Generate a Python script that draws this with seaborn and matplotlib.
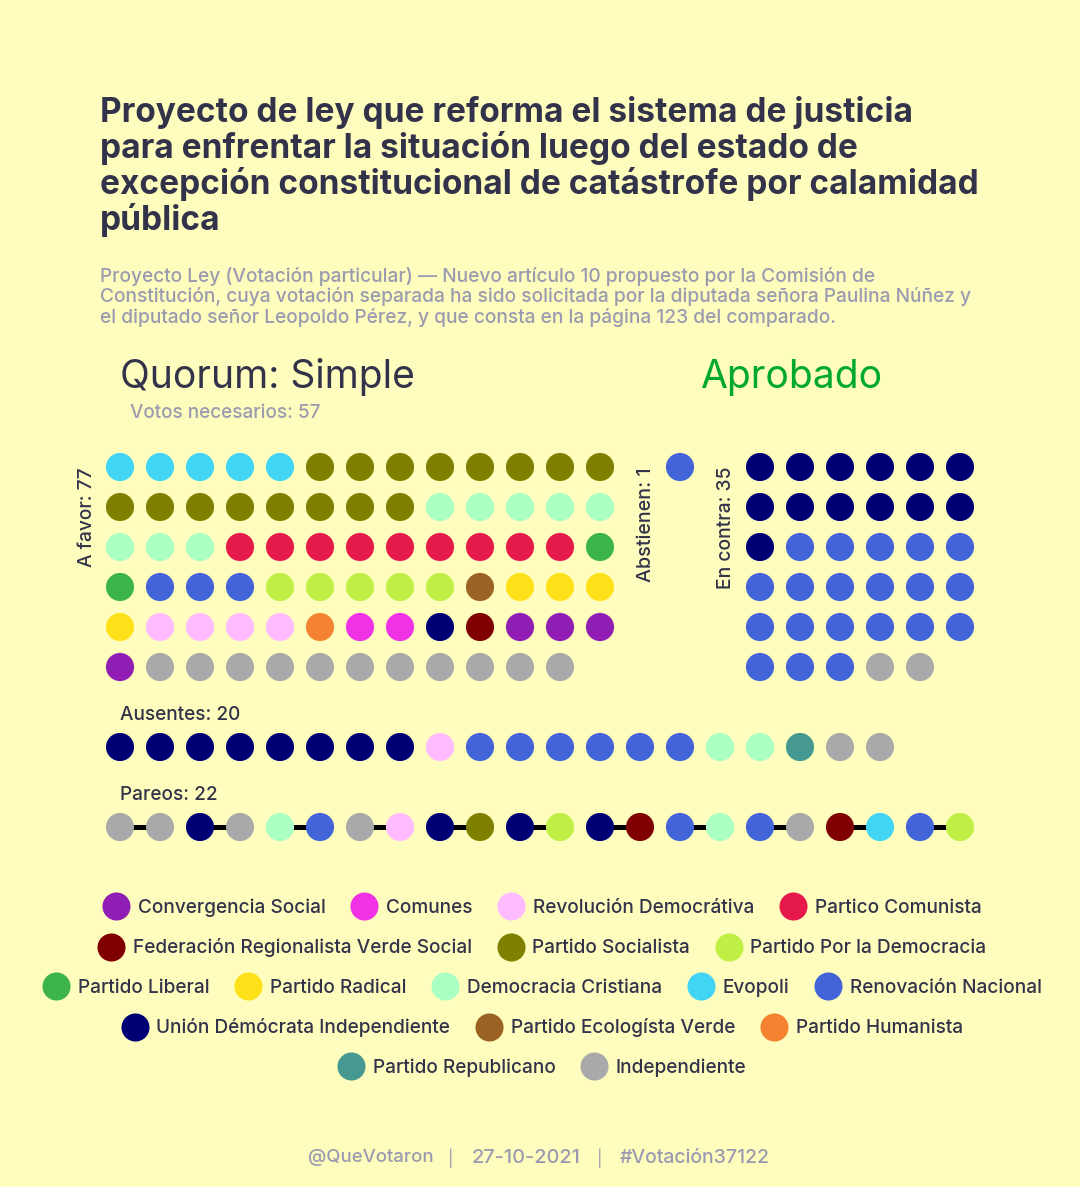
import matplotlib.pyplot as plt
import pandas as pd
import seaborn as sns
from matplotlib.lines import Line2D

BG = "#FEFDBD"
DARK = "#32334A"
GREY = "#9A9AB0"

party_colors = {
    "Convergencia Social": "#911EB4",
    "Comunes": "#F032E6",
    "Revolución Democrátiva": "#FFBBFF",
    "Partico Comunista": "#E6194B",
    "Federación Regionalista Verde Social": "#800000",
    "Partido Socialista": "#808000",
    "Partido Por la Democracia": "#BFEF45",
    "Partido Liberal": "#3CB44B",
    "Partido Radical": "#FFE119",
    "Democracia Cristiana": "#AAFFC3",
    "Evopoli": "#42D4F4",
    "Renovación Nacional": "#4363D8",
    "Unión Démócrata Independiente": "#000075",
    "Partido Ecologísta Verde": "#9A6324",
    "Partido Humanista": "#F58231",
    "Partido Republicano": "#469990",
    "Independiente": "#A9A9A9",
}
legend_rows = [
    ["Convergencia Social", "Comunes", "Revolución Democrátiva", "Partico Comunista"],
    ["Federación Regionalista Verde Social", "Partido Socialista", "Partido Por la Democracia"],
    ["Partido Liberal", "Partido Radical", "Democracia Cristiana", "Evopoli", "Renovación Nacional"],
    ["Unión Démócrata Independiente", "Partido Ecologísta Verde", "Partido Humanista"],
    ["Partido Republicano", "Independiente"],
]

# (party, seats) runs, in the order the dots are laid out
a_favor = [("Evopoli", 5), ("Partido Socialista", 16), ("Democracia Cristiana", 8),
           ("Partico Comunista", 9), ("Partido Liberal", 2), ("Renovación Nacional", 3),
           ("Partido Por la Democracia", 5), ("Partido Ecologísta Verde", 1),
           ("Partido Radical", 4), ("Revolución Democrátiva", 4), ("Partido Humanista", 1),
           ("Comunes", 2), ("Unión Démócrata Independiente", 1),
           ("Federación Regionalista Verde Social", 1), ("Convergencia Social", 4),
           ("Independiente", 11)]
abstienen = [("Renovación Nacional", 1)]
en_contra = [("Unión Démócrata Independiente", 13), ("Renovación Nacional", 20), ("Independiente", 2)]
ausentes = [("Unión Démócrata Independiente", 8), ("Revolución Democrátiva", 1),
            ("Renovación Nacional", 6), ("Democracia Cristiana", 2),
            ("Partido Republicano", 1), ("Independiente", 2)]
pareos = ["Independiente", "Independiente", "Unión Démócrata Independiente", "Independiente",
          "Democracia Cristiana", "Renovación Nacional", "Independiente", "Revolución Democrátiva",
          "Unión Démócrata Independiente", "Partido Socialista", "Unión Démócrata Independiente",
          "Partido Por la Democracia", "Unión Démócrata Independiente",
          "Federación Regionalista Verde Social", "Renovación Nacional", "Democracia Cristiana",
          "Renovación Nacional", "Independiente", "Federación Regionalista Verde Social",
          "Evopoli", "Renovación Nacional", "Partido Por la Democracia"]

title_lines = ["Proyecto de ley que reforma el sistema de justicia",
               "para enfrentar la situación luego del estado de",
               "excepción constitucional de catástrofe por calamidad",
               "pública"]
subtitle_lines = ["Proyecto Ley (Votación particular) — Nuevo artículo 10 propuesto por la Comisión de",
                  "Constitución, cuya votación separada ha sido solicitada por la diputada señora Paulina Núñez y",
                  "el diputado señor Leopoldo Pérez, y que consta en la página 123 del comparado."]
footer_parts = ["@QueVotaron", "27-10-2021", "#Votación37122"]


def expand(runs):
    return [p for p, n in runs for _ in range(n)]


def block(parties, col0, row0, ncols):
    return pd.DataFrame({
        "party": parties,
        "col": [col0 + i % ncols for i in range(len(parties))],
        "row": [row0 + i // ncols for i in range(len(parties))],
    })


plt.rcParams["font.family"] = ["Inter", "DejaVu Sans"]
fig = plt.figure(figsize=(10.8, 11.87), dpi=100, facecolor=BG)
ax = fig.add_axes([0, 0, 1, 1])
ax.set_axis_off()

# one grid step is 40 px on the 1080 x 1187 canvas
top = 467 / 40

dots = pd.concat([
    block(expand(a_favor), 3, top, 13),
    block(expand(abstienen), 17, top, 1),
    block(expand(en_contra), 19, top, 6),
    block(expand(ausentes), 3, top + 7, 20),
    block(pareos, 3, top + 9, 22),
])

# pair links sit under the dots
for i in range(0, len(pareos), 2):
    ax.plot([3 + i, 3 + i + 1], [top + 9, top + 9], color="black", lw=3.6, zorder=1, solid_capstyle="butt")

sns.scatterplot(data=dots, x="col", y="row", hue="party", palette=party_colors,
                s=410, linewidth=0, legend=False, ax=ax, zorder=2)
ax.set_xlim(0, 27)
ax.set_ylim(1187 / 40, 0)


def put(x, y, s, **kw):
    fig.text(x / 1080, 1 - y / 1187, s, **kw)


for i, line in enumerate(title_lines):
    put(100, 108.7 + i * 36, line, fontsize=24.07, fontweight="bold", color=DARK, va="center_baseline")
for i, line in enumerate(subtitle_lines):
    put(100, 274 + i * 20.8, line, fontsize=13.8, fontweight="medium", color=GREY, va="center_baseline")

put(120, 373.5, "Quorum: Simple", fontsize=28.1, color=DARK, va="center_baseline")
put(700, 373.5, "Aprobado", fontsize=28.1, color="#00A92C", va="center_baseline")
put(130, 411.5, "Votos necesarios: 57", fontsize=13.6, fontweight="medium", color=GREY, va="center_baseline")

put(86.5, 517, "A favor: 77", fontsize=13.8, fontweight="medium", color=DARK, rotation=90, ha="center", va="center")
put(646, 525, "Abstienen: 1", fontsize=14.2, fontweight="medium", color=DARK, rotation=90, ha="center", va="center")
put(726, 528, "En contra: 35", fontsize=13.9, fontweight="medium", color=DARK, rotation=90, ha="center", va="center")
put(120, 713.5, "Ausentes: 20", fontsize=13.7, fontweight="medium", color=DARK, va="center_baseline")
put(120, 793.5, "Pareos: 22", fontsize=13.7, fontweight="medium", color=DARK, va="center_baseline")

for i, row in enumerate(legend_rows):
    handles = [Line2D([], [], ls="", marker="o", ms=20.2, mew=0, color=party_colors[p]) for p in row]
    fig.legend(handles, row, ncol=len(row), loc="center", bbox_to_anchor=(542 / 1080, 1 - (907.7 + i * 40) / 1187),
               frameon=False, prop={"size": 13.7, "weight": "medium"}, labelcolor=DARK, handlelength=1.43,
               handletextpad=0.42, columnspacing=1.33, borderpad=0, borderaxespad=0)

put(371, 1156, footer_parts[0], fontsize=13.4, fontweight="medium", color=GREY, ha="center", va="center_baseline")
put(451, 1156, "|", fontsize=12, color=GREY, ha="center", va="center_baseline")
put(526, 1156, footer_parts[1], fontsize=14.4, fontweight="medium", color=GREY, ha="center", va="center_baseline")
put(600, 1156, "|", fontsize=12, color=GREY, ha="center", va="center_baseline")
put(695, 1156, footer_parts[2], fontsize=14.0, fontweight="medium", color=GREY, ha="center", va="center_baseline")

fig.savefig("out.png", dpi=100, facecolor=BG)
